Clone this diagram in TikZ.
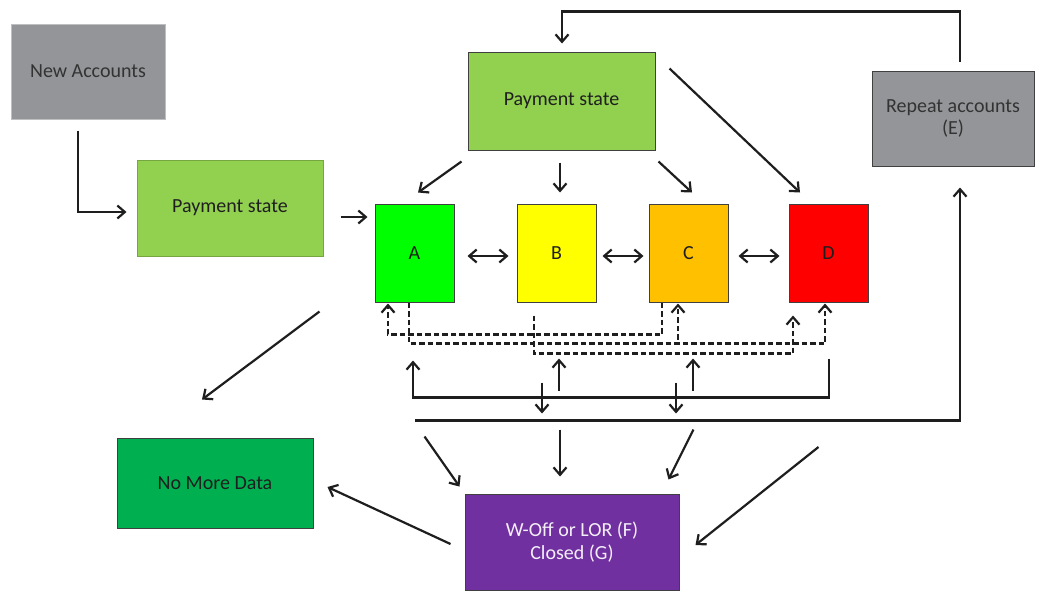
\documentclass[tikz,border=0pt]{standalone}
\usepackage{fontspec}
\setmainfont{Carlito}
\usetikzlibrary{arrows.meta,calc}
\definecolor{grayb}{HTML}{939598}
\definecolor{lgreen}{HTML}{92D050}
\definecolor{sgreen}{HTML}{00FF00}
\definecolor{syellow}{HTML}{FFFF00}
\definecolor{sorange}{HTML}{FFC000}
\definecolor{sred}{HTML}{FF0000}
\definecolor{dgreen}{HTML}{00B050}
\definecolor{purp}{HTML}{7030A0}
\definecolor{ink}{HTML}{1E1E1E}
\begin{document}
\begin{tikzpicture}[x=1pt,y=-1pt,
  box/.style={draw=black!75, line width=1pt, inner sep=0pt, align=center,
    font=\fontsize{20}{24}\selectfont, text=black!88},
  arr/.style={line width=2.2pt, draw=ink, -{Straight Barb[length=7.5pt,width=13pt]}},
  darr/.style={line width=2.2pt, draw=ink, {Straight Barb[length=7.5pt,width=13pt]}-{Straight Barb[length=7.5pt,width=13pt]}},
  dsh/.style={arr, dash pattern=on 5.5pt off 3pt},
  ln/.style={line width=2.2pt, draw=ink}
]
\useasboundingbox (0,0) rectangle (1048,592);

\node[box, fill=grayb, draw=black!25, minimum width=154pt, minimum height=95pt, text=black!80] (new) at (88,71.5) {\raisebox{-2pt}{New Accounts}};
\node[box, fill=lgreen, draw=lgreen!80!black, minimum width=186pt, minimum height=96pt] (ps1) at (230,208) {\raisebox{-2pt}{Payment state}};
\node[box, fill=lgreen, minimum width=187pt, minimum height=98pt] (ps2) at (561.5,101) {\raisebox{-2pt}{Payment state}};
\node[box, fill=grayb, minimum width=162pt, minimum height=95pt, text=black!80] (rep) at (953,118.5) {\raisebox{-2pt}{\shortstack{Repeat accounts\\[2pt](E)}}};
\node[box, fill=sgreen, minimum width=79pt, minimum height=98pt] (A) at (414.5,253) {A};
\node[box, fill=syellow, minimum width=79pt, minimum height=98pt] (B) at (556.5,253) {B};
\node[box, fill=sorange, minimum width=79pt, minimum height=98pt] (C) at (688.5,253) {C};
\node[box, fill=sred, minimum width=79pt, minimum height=98pt] (D) at (828.5,253) {D};
\node[box, fill=dgreen, minimum width=196pt, minimum height=90pt] (nmd) at (215,483) {\raisebox{-2pt}{No More Data}};
\node[box, fill=purp, minimum width=214pt, minimum height=96pt, text=white!92!purp] (fg) at (572,542) {\raisebox{-3pt}{\shortstack{W-Off or LOR (F)\\[2pt]Closed (G)}}};

% entry arrows
\draw[arr] ($(new.south)+(-10,11)$) |- ($(ps1.west)+(-10,4)$);
\draw[arr] ($(ps1.east)+(17,9)$) -- ($(A.west)+(-7,-36)$);
% from top payment state
\draw[arr] ($(ps2.south west)+(-6,11)$) -- ($(A.north)+(3.5,-11)$);
\draw[arr] ($(ps2.south)+(-1.5,12)$) -- ($(B.north)+(3.5,-11)$);
\draw[arr] ($(ps2.south east)+(3,11)$) -- ($(C.north)+(3.5,-11)$);
\draw[arr] ($(ps2.north east)+(14,17)$) -- ($(D.north)+(-28.5,-11)$);
% repeat accounts back to payment state
\draw[arr] ($(rep.north)+(7,-9)$) |- ($(ps2.north)+(0.5,-40)$) -- ($(ps2.north)+(0.5,-8)$);
% double arrows
\draw[darr] ($(A.east)+(13,3)$) -- ($(B.west)+(-8,3)$);
\draw[darr] ($(B.east)+(6,3)$) -- ($(C.west)+(-5,3)$);
\draw[darr] ($(C.east)+(10,3)$) -- ($(D.west)+(-9,3)$);
% dashed transitions
\draw[dsh] ($(A.south)+(-5.5,0)$) |- ($(D.south)+(-3.5,41)$) -- ($(D.south)+(-3.5,1)$);
\draw[dsh] ($(C.south)+(-26.5,0)$) |- ($(A.south)+(-26.5,32)$) -- ($(A.south)+(-26.5,1)$);
\draw[dsh] ($(B.south)+(-22.5,13)$) |- ($(D.south)+(-35.5,51)$) -- ($(D.south)+(-35.5,13)$);
\draw[dsh] ($(C.south)+(-10.5,37)$) -- ($(C.south)+(-10.5,1)$);
% solid return
\draw[arr] ($(D.south)+(0.5,56)$) |- ($(A.south)+(-1.5,95)$) -- ($(A.south)+(-1.5,58)$);
\draw[arr] ($(B.south)+(2.5,88)$) -- ($(B.south)+(2.5,56)$);
\draw[arr] ($(C.south)+(4.5,88)$) -- ($(C.south)+(4.5,56)$);
\draw[arr] ($(B.south)+(-14.5,80)$) -- ($(B.south)+(-14.5,111)$);
\draw[arr] ($(C.south)+(-12.5,80)$) -- ($(C.south)+(-12.5,111)$);
% long line to repeat accounts
\draw[arr] ($(A.south)+(0.5,118)$) -| ($(rep.south)+(7,21)$);
% to write-off / closed
\draw[arr] ($(fg.north west)+(-40,-57)$) -- ($(fg.north west)+(-5,-7)$);
\draw[arr] ($(fg.north)+(-12,-64)$) -- ($(fg.north)+(-12,-17)$);
\draw[arr] ($(fg.north east)+(14,-64)$) -- ($(fg.north east)+(-11,-14)$);
\draw[arr] ($(fg.east)+(139,-95)$) -- ($(fg.east)+(16,3)$);
% to no more data
\draw[arr] ($(ps1.south east)+(-4,55)$) -- ($(nmd.north)+(-13,-38)$);
\draw[arr] ($(fg.west)+(-14,2)$) -- ($(nmd.east)+(14,4)$);
\end{tikzpicture}
\end{document}
